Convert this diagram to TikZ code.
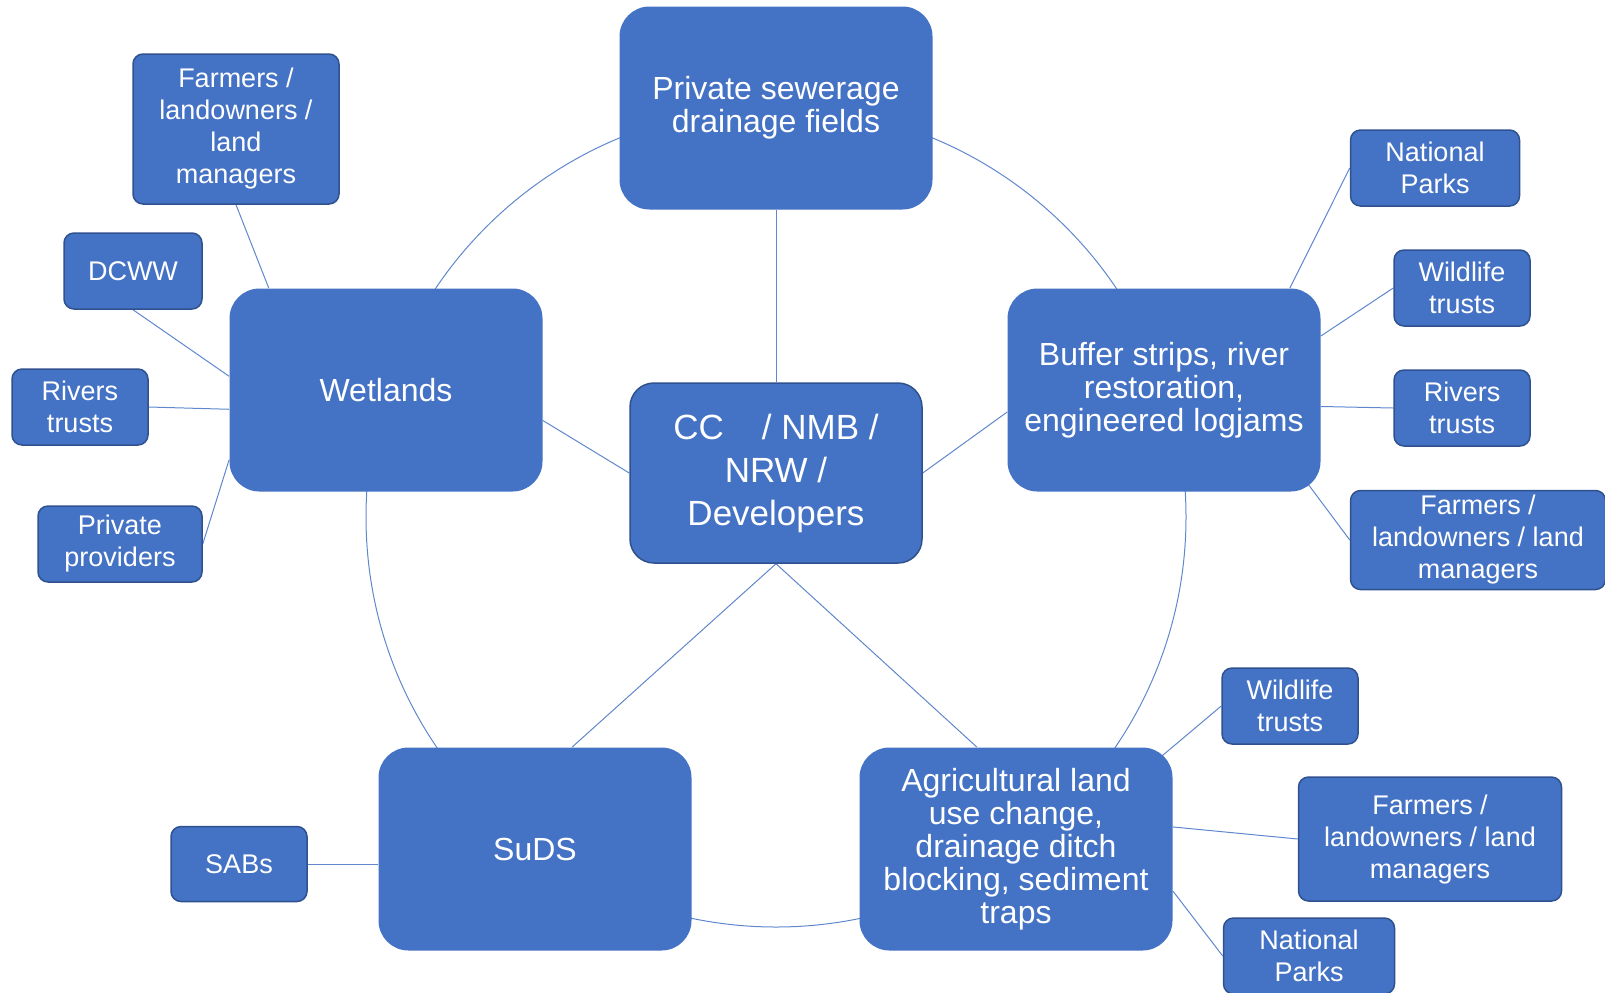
\documentclass[tikz,border=0pt]{standalone}
\usepackage{fontspec}
\setmainfont{Liberation Sans}
\usetikzlibrary{backgrounds,calc}
\definecolor{boxblue}{RGB}{68,114,196}
\definecolor{edgeblue}{RGB}{47,82,143}

\begin{document}
\begin{tikzpicture}
  [x=0.5pt,y=-0.5pt,
    every node/.style={fill=boxblue,text=white,rounded corners=5pt,align=center,
      inner sep=0pt,font=\fontsize{13.5}{16}\selectfont},
    hub/.style={draw=edgeblue,line width=0.75pt,rounded corners=12pt,
      minimum width=146pt,minimum height=90pt,font=\fontsize{17.5}{21.5}\selectfont},
    topic/.style={rounded corners=15pt,minimum width=156.5pt,minimum height=101.5pt,
      font=\fontsize{16}{16.5}\selectfont},
    actor/.style={draw=edgeblue,line width=0.75pt,minimum width=68pt,minimum height=38pt},
    link/.style={draw=boxblue!85,line width=0.5pt},
  ]
  \useasboundingbox (0,0) rectangle (1605,992);

  % centre and the five measures
  \node[hub] (cc) at (776,473) {CC\hspace{19pt}/ NMB /\\NRW /\\Developers};
  \node[topic] (top) at (776,108) {Private sewerage\\drainage fields};
  \node[topic] (wet) at (386,390) {Wetlands};
  \node[topic] (buf) at (1164,390) {Buffer strips, river\\restoration,\\engineered logjams};
  \node[topic] (suds) at (535,849) {SuDS};
  \node[topic] (agr) at (1016,849) {Agricultural land\\use change,\\drainage ditch\\blocking, sediment\\traps};

  % partners
  \node[actor,minimum width=103pt,minimum height=75pt] (fa1) at (236,129) {Farmers /\\landowners /\\land\\managers};
  \node[actor,minimum width=69pt] (dcww) at (133,271) {DCWW};
  \node[actor] (rt1) at (80,407) {Rivers\\trusts};
  \node[actor,minimum width=82pt] (pp) at (120,544) {Private\\providers};
  \node[actor,minimum height=37.5pt] (sabs) at (239,864) {SABs};
  \node[actor,minimum width=84.5pt] (np1) at (1435,168) {National\\Parks};
  \node[actor] (wt1) at (1462,288) {Wildlife\\trusts};
  \node[actor] (rt2) at (1462,408) {Rivers\\trusts};
  \node[actor,minimum width=127.5pt,minimum height=49.5pt] (fa2) at (1478,540) {Farmers /\\landowners / land\\managers};
  \node[actor] (wt3) at (1290,706) {Wildlife\\trusts};
  \node[actor,minimum width=131.5pt,minimum height=62pt] (fa3) at (1430,839) {Farmers /\\landowners / land\\managers};
  \node[actor,minimum width=85.5pt] (np3) at (1309,956) {National\\Parks};

  \begin{scope}[on background layer]
    \draw[link] (776,517) circle [radius=205pt];
    \draw[link] (top) -- (cc);
    \draw[link] (wet.-11) -- (cc.west);
    \draw[link] (cc.east) -- (buf.188);
    \draw[link] (cc.south) -- (suds.70);
    \draw[link] (cc.south) -- (agr.111);
    \draw[link] (fa1.south) -- (wet.139);
    \draw[link] (dcww.south) -- (wet.175);
    \draw[link] (rt1.east) -- (wet.187);
    \draw[link] (pp.east) -- (wet.204);
    \draw[link] (sabs.east) -- (sabs.east -| suds.west);
    \draw[link] (np1.west) -- (buf.39);
    \draw[link] (wt1.west) -- (buf.19);
    \draw[link] (rt2.west) -- (buf.-6);
    \draw[link] (fa2.west) -- ($(buf)+(141,90)$);
    \draw[link] (wt3.west) -- ($(agr)+(134,-83)$);
    \draw[link] (fa3.west) -- (agr.8);
    \draw[link] (np3.west) -- (agr.-15);
  \end{scope}
\end{tikzpicture}
\end{document}
